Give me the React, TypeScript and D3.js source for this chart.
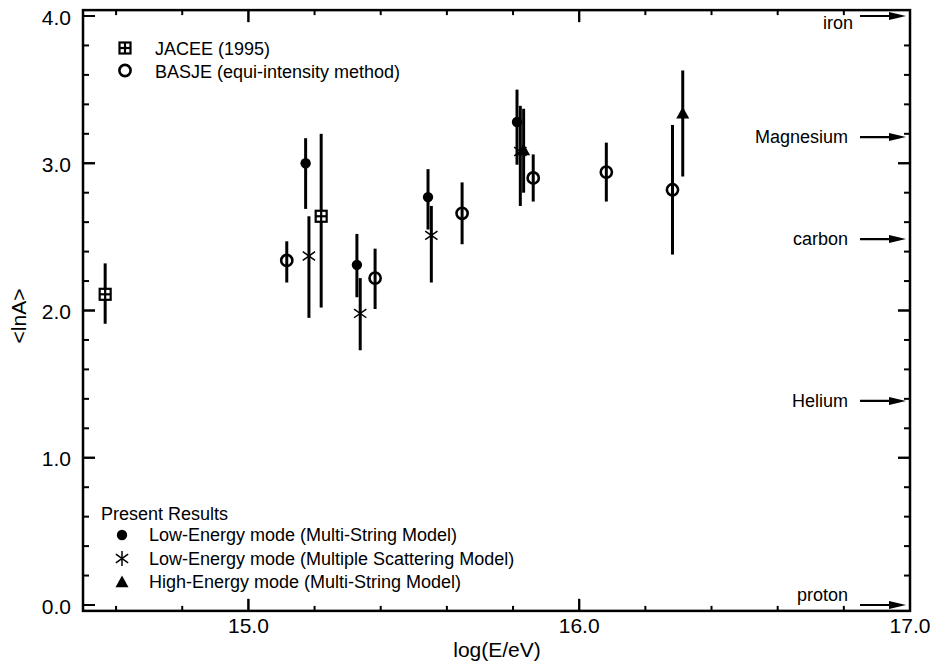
import React from 'react';
import * as d3 from 'd3';

// data: [log(E/eV), <lnA>, lower, upper]
const jacee = [
  [14.567, 2.11, 1.91, 2.32],
  [15.22, 2.64, 2.02, 3.2],
];
const basje = [
  [15.116, 2.34, 2.19, 2.47],
  [15.383, 2.22, 2.01, 2.42],
  [15.646, 2.66, 2.45, 2.87],
  [15.861, 2.9, 2.74, 3.06],
  [16.082, 2.94, 2.74, 3.14],
  [16.282, 2.82, 2.38, 3.26],
];
const lowMSM = [
  [15.173, 3.0, 2.69, 3.17],
  [15.328, 2.31, 2.09, 2.52],
  [15.543, 2.77, 2.55, 2.96],
  [15.812, 3.28, 2.99, 3.5],
];
const lowMSc = [
  [15.183, 2.37, 1.95, 2.64],
  [15.338, 1.98, 1.73, 2.22],
  [15.553, 2.51, 2.19, 2.71],
  [15.822, 3.08, 2.71, 3.39],
];
const highMSM = [
  [15.832, 3.09, 2.8, 3.37],
  [16.313, 3.34, 2.91, 3.63],
];
const elements = [
  ['iron', 4.0],
  ['Magnesium', 3.178],
  ['carbon', 2.485],
  ['Helium', 1.386],
  ['proton', 0],
];
const xMajor = [15.0, 16.0, 17.0];
const yMajor = [0.0, 1.0, 2.0, 3.0, 4.0];

const W = 930;
const H = 664;
const m = { left: 83, right: 20, top: 16, bottom: 59 };
const FONT = 'Liberation Sans, Arial, Helvetica, sans-serif';

const x = d3.scaleLinear().domain([14.5, 17]).range([m.left, W - m.right]);
const y = d3.scaleLinear().domain([0, 4]).range([H - m.bottom, m.top]);

const xMinor = d3.range(14.6, 17.0, 0.2).map((v) => +v.toFixed(1));
const yMinor = d3.range(0.2, 4.0, 0.2).map((v) => +v.toFixed(1));

const isMajor = (v: number) => Math.abs(v - Math.round(v)) < 1e-6;

function Marker({ kind, cx, cy }: { kind: string; cx: number; cy: number }) {
  if (kind === 'square') {
    const s = 5.5;
    return (
      <g stroke="#000" strokeWidth={2.2} fill="#fff">
        <rect x={cx - s} y={cy - s} width={2 * s} height={2 * s} />
        <line x1={cx - s} x2={cx + s} y1={cy} y2={cy} />
        <line x1={cx} x2={cx} y1={cy - s} y2={cy + s} />
      </g>
    );
  }
  if (kind === 'circle') {
    return <circle cx={cx} cy={cy} r={5.6} fill="none" stroke="#000" strokeWidth={2.6} />;
  }
  if (kind === 'dot') {
    return <circle cx={cx} cy={cy} r={5.2} fill="#000" />;
  }
  if (kind === 'star') {
    const r = 7.5;
    const lines = [90, 35, 145].map((a) => {
      const t = (a * Math.PI) / 180;
      return [cx - r * Math.cos(t), cy - r * Math.sin(t), cx + r * Math.cos(t), cy + r * Math.sin(t)];
    });
    return (
      <g stroke="#000" strokeWidth={1.5}>
        {lines.map((l, i) => (
          <line key={i} x1={l[0]} y1={l[1]} x2={l[2]} y2={l[3]} />
        ))}
      </g>
    );
  }
  // triangle
  const s = 6.5;
  return <path d={`M${cx},${cy - s}L${cx + s},${cy + s * 0.8}L${cx - s},${cy + s * 0.8}Z`} fill="#000" />;
}

function Series({ data, kind }: { data: number[][]; kind: string }) {
  return (
    <g>
      {data.map((d, i) => (
        <g key={i}>
          <line x1={x(d[0])} x2={x(d[0])} y1={y(d[2])} y2={y(d[3])} stroke="#000" strokeWidth={3} />
          <Marker kind={kind} cx={x(d[0])} cy={y(d[1])} />
        </g>
      ))}
    </g>
  );
}

export default function App() {
  const x0 = x.range()[0];
  const x1 = x.range()[1];
  // frame reaches a little past 0.0 and 4.0
  const y0 = y(-0.04);
  const y1 = y(4.04);
  const legendTop = [
    ['square', 'JACEE (1995)'],
    ['circle', 'BASJE (equi-intensity method)'],
  ];
  const legendBottom = [
    ['dot', 'Low-Energy mode (Multi-String Model)'],
    ['star', 'Low-Energy mode (Multiple Scattering Model)'],
    ['tri', 'High-Energy mode (Multi-String Model)'],
  ];
  return (
    <svg
      width={W}
      height={H}
      style={{ position: 'absolute', left: 0, top: 0, background: '#fff' }}
      fontFamily={FONT}
    >
      <rect width={W} height={H} fill="#fff" />
      {/* ticks */}
      <g stroke="#000" strokeWidth={2}>
        {xMinor.concat(xMajor.slice(0, 2)).map((v) => {
          const L = isMajor(v) ? 12 : 5;
          return (
            <g key={'x' + v}>
              <line x1={x(v)} x2={x(v)} y1={y0} y2={y0 - L} />
              <line x1={x(v)} x2={x(v)} y1={y1} y2={y1 + L} />
            </g>
          );
        })}
        {yMinor.concat([1, 2, 3]).map((v) => {
          const L = isMajor(v) ? 12 : 6;
          return (
            <g key={'y' + v}>
              <line x1={x0} x2={x0 + L} y1={y(v)} y2={y(v)} />
              <line x1={x1} x2={x1 - L} y1={y(v)} y2={y(v)} />
            </g>
          );
        })}
        <line x1={x0} x2={x0 + 12} y1={y(4)} y2={y(4)} />
        <line x1={x0} x2={x0 + 12} y1={y(0)} y2={y(0)} />
      </g>
      {/* frame */}
      <rect x={x0} y={y1} width={x1 - x0} height={y0 - y1} fill="none" stroke="#000" strokeWidth={2.5} />

      {/* tick labels */}
      <g fontSize={21} fill="#000">
        {xMajor.map((v) => (
          <text key={v} x={x(v)} y={y(0) + 28} textAnchor="middle">
            {v.toFixed(1)}
          </text>
        ))}
        {yMajor.map((v) => (
          <text key={v} x={x0 - 12} y={y(v) + 8.5} textAnchor="end">
            {v.toFixed(1)}
          </text>
        ))}
      </g>
      <text x={497} y={657} fontSize={21} textAnchor="middle">
        log(E/eV)
      </text>
      <text transform={`translate(26,316) rotate(-90)`} fontSize={21} textAnchor="middle">
        {'<lnA>'}
      </text>

      {/* element arrows */}
      {elements.map(([name, v]) => {
        const yy = y(v as number);
        const ty = name === 'iron' ? yy + 13 : name === 'proton' ? yy - 4 : yy + 6;
        const tx = name === 'iron' ? 853 : 848;
        return (
          <g key={name as string}>
            <line x1={860} x2={895} y1={yy} y2={yy} stroke="#000" strokeWidth={2.2} />
            <path d={`M${x1 - 4},${yy}L${x1 - 21},${yy - 4}L${x1 - 21},${yy + 4}Z`} fill="#000" />
            <text x={tx} y={ty} fontSize={18} textAnchor="end">
              {name}
            </text>
          </g>
        );
      })}

      {/* data */}
      <Series data={jacee} kind="square" />
      <Series data={basje} kind="circle" />
      <Series data={lowMSc} kind="star" />
      <Series data={lowMSM} kind="dot" />
      <Series data={highMSM} kind="tri" />

      {/* legends */}
      <g fontSize={18}>
        {legendTop.map(([k, t], i) => (
          <g key={t}>
            <Marker kind={k} cx={125} cy={48 + i * 22.5} />
            <text x={155} y={55 + i * 22.5}>
              {t}
            </text>
          </g>
        ))}
        <text x={101} y={520}>
          Present Results
        </text>
        {legendBottom.map(([k, t], i) => (
          <g key={t}>
            <Marker kind={k} cx={122} cy={535 + i * 23.5} />
            <text x={149} y={541 + i * 23.5}>
              {t}
            </text>
          </g>
        ))}
      </g>
    </svg>
  );
}
